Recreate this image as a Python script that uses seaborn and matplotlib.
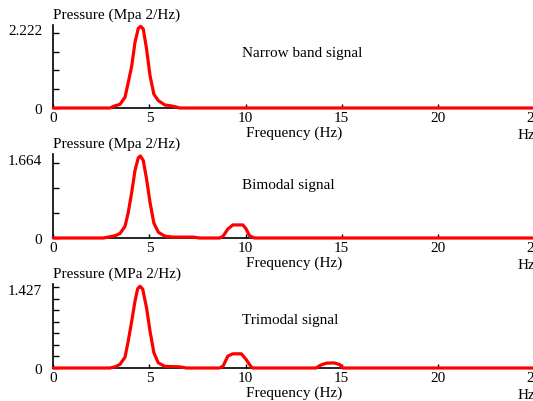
import numpy as np
import pandas as pd
import matplotlib
matplotlib.use("Agg")
import matplotlib.pyplot as plt
import matplotlib.transforms as mtransforms
import seaborn as sns

# ---------------- data ----------------
narrow_freq = [0, 2.95, 3.13, 3.47, 3.73, 3.90, 4.08, 4.25, 4.42, 4.54, 4.68, 4.85,
               5.03, 5.23, 5.46, 5.80, 6.06, 6.32, 6.58, 25]
narrow_psd = [0, 0, 0.05, 0.11, 0.32, 0.76, 1.25, 1.95, 2.36, 2.42, 2.34, 1.75,
              0.96, 0.41, 0.22, 0.09, 0.07, 0.04, 0, 0]

bimodal_freq = [0, 2.60, 2.80, 3.21, 3.47, 3.73, 3.90, 4.08, 4.25, 4.42, 4.53, 4.68,
                4.85, 5.03, 5.23, 5.46, 5.80, 6.23, 7.27, 7.60, 8.65, 8.83, 9.08,
                9.34, 9.86, 10.03, 10.20, 10.47, 25]
bimodal_psd = [0, 0, 0.015, 0.05, 0.10, 0.26, 0.57, 1.02, 1.50, 1.78, 1.82, 1.72,
               1.31, 0.79, 0.33, 0.13, 0.04, 0.02, 0.02, 0, 0, 0.04, 0.20,
               0.29, 0.29, 0.20, 0.05, 0, 0]

trimodal_freq = [0, 2.95, 3.21, 3.47, 3.73, 3.90, 4.08, 4.25, 4.39, 4.51, 4.65, 4.85,
                 5.03, 5.23, 5.46, 5.80, 6.58, 6.93, 8.65, 8.83, 9.08, 9.34, 9.78,
                 10.03, 10.29, 10.38, 13.66, 13.90, 14.20, 14.60, 14.90, 15.04, 25]
trimodal_psd = [0, 0, 0.02, 0.065, 0.19, 0.48, 0.83, 1.18, 1.40, 1.44, 1.39, 1.06,
                0.65, 0.27, 0.09, 0.03, 0.02, 0, 0, 0.035, 0.21, 0.25, 0.25,
                0.15, 0.02, 0, 0, 0.05, 0.085, 0.09, 0.06, 0, 0]

titles = ["Narrow band signal", "Bimodal signal", "Trimodal signal"]
ylabels = ["Pressure (Mpa 2/Hz)", "Pressure (Mpa 2/Hz)", "Pressure (MPa 2/Hz)"]
top_labels = ["2.222", "1.664", "1.427"]
top_values = [2.222, 1.664, 1.427]
n_intervals = [4, 3, 7]
ylim_tops = [2.459, 1.864, 1.48]
xtick_values = [0, 5, 10, 15, 20, 25]
xtick_labels = ["0", "5", "10", "15", "20", "25"]

# ---------------- style ----------------
sns.set_style("ticks")
plt.rcParams["font.family"] = ["Liberation Serif", "DejaVu Serif"]
FS = 11

W, H = 533, 402
fig = plt.figure(figsize=(W / 100, H / 100), dpi=100)

x0, x25 = 53.3, 534.0
panels = [  # (zero pixel y, top pixel y, title center y)
    (109, 26, 53),
    (239, 155, 186),
    (369, 285, 321),
]
series = [(narrow_freq, narrow_psd), (bimodal_freq, bimodal_psd), (trimodal_freq, trimodal_psd)]

for i, ((zy, ty, titley), (fx, fy)) in enumerate(zip(panels, series)):
    ax = fig.add_axes([x0 / W, 1 - zy / H, (x25 - x0) / W, (zy - ty) / H])
    df = pd.DataFrame({"freq": fx, "psd": fy})
    sns.lineplot(data=df, x="freq", y="psd", ax=ax, color="#ff0000", lw=2.3,
                 zorder=5, clip_on=False, estimator=None, sort=False)
    ax.set_xlim(0, 25)
    ax.set_ylim(0, ylim_tops[i])
    for s in ["top", "right"]:
        ax.spines[s].set_visible(False)
    for s in ["left", "bottom"]:
        ax.spines[s].set_color("black")
        ax.spines[s].set_linewidth(1.2)
    ax.set_xticks(xtick_values)
    ax.set_xticklabels(xtick_labels)
    yt = np.linspace(0, top_values[i], n_intervals[i] + 1)
    ax.set_yticks(yt)
    ax.set_yticklabels(["0"] + [""] * (n_intervals[i] - 1) + [top_labels[i]])
    ax.tick_params(axis="x", direction="in", length=3, width=1, pad=2.5,
                   labelsize=FS, colors="black")
    ax.tick_params(axis="y", direction="in", length=4.5, width=1, pad=8,
                   labelsize=FS, colors="black")
    # nudge the top y label like in the reference
    lbls = ax.get_yticklabels()
    dy = [4, 4, -2][i]
    lbls[-1].set_transform(lbls[-1].get_transform() +
                           mtransforms.ScaledTranslation(0, dy / 100, fig.dpi_scale_trans))
    ax.set_xlabel("Frequency (Hz)", fontsize=FS, labelpad=1, color="black")
    ax.set_ylabel("")
    ax.annotate(ylabels[i], xy=(0, 1), xycoords="axes fraction",
                xytext=(0, 7.5), textcoords="offset points",
                ha="left", va="center", fontsize=FS, color="black")
    fig.text(518 / W, 1 - (zy + 26.5) / H, "Hz", ha="left", va="center",
             fontsize=FS, color="black")
    fig.text(242 / W, 1 - titley / H, titles[i], ha="left", va="center",
             fontsize=FS, color="black")
    ax.set_facecolor("white")

fig.savefig("out.png", dpi=100, facecolor="white")
